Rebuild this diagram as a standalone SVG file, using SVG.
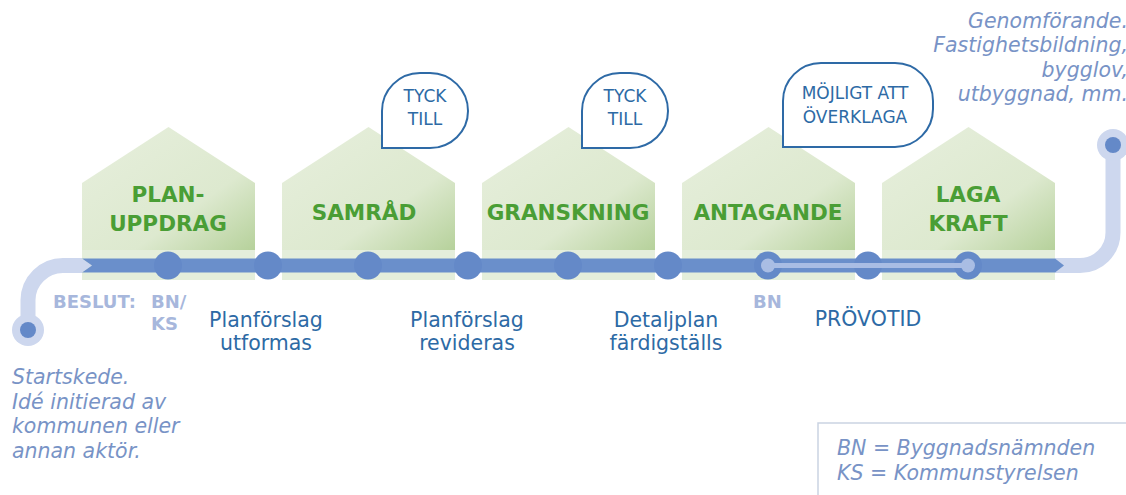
<svg xmlns="http://www.w3.org/2000/svg" width="1126" height="495" viewBox="0 0 1126 495">
<defs>
<linearGradient id="hg" x1="0" y1="0" x2="1" y2="1">
<stop offset="0" stop-color="#e7efdd"/>
<stop offset="0.65" stop-color="#dde9cf"/>
<stop offset="1" stop-color="#b6d19b"/>
</linearGradient>
<path id="house" d="M0,123 V56 L86.5,0 L173,56 V123 Z"/>
</defs>
<style>
.band{fill:#e4eedb}
.hl{font-family:"DejaVu Sans",Verdana,sans-serif;font-weight:bold;font-size:21.5px;fill:#4a9e35;text-anchor:middle}
.lbl{font-family:"DejaVu Sans",Verdana,sans-serif;font-size:20.5px;fill:#2d6aa5;text-anchor:middle}
.dec{font-family:"DejaVu Sans",Verdana,sans-serif;font-weight:bold;font-size:18px;fill:#a7b7dc}
.it{font-family:"DejaVu Sans",Verdana,sans-serif;font-style:italic;font-size:20.5px;fill:#7893c6}
.bub{fill:#ffffff;stroke:#2e6aa6;stroke-width:2}
.bt{font-family:"DejaVu Sans",Verdana,sans-serif;font-size:17px;fill:#2d6aa5;text-anchor:middle}
.pale{fill:none;stroke:#cdd7ee;stroke-width:15}
.dot{fill:#6489c8}
.idot{fill:#a9bde4}
</style>
<rect width="1126" height="495" fill="#ffffff"/>

<g id="house-planuppdrag">
<use href="#house" x="82" y="127" fill="url(#hg)"/>
<rect class="band" x="82" y="250" width="173" height="30"/>
<text class="hl" x="168" y="202">PLAN-</text>
<text class="hl" x="168" y="231">UPPDRAG</text>
</g>
<g id="house-samrad">
<use href="#house" x="282" y="127" fill="url(#hg)"/>
<rect class="band" x="282" y="250" width="173" height="30"/>
<text class="hl" x="364" y="220">SAMRÅD</text>
</g>
<g id="house-granskning">
<use href="#house" x="482" y="127" fill="url(#hg)"/>
<rect class="band" x="482" y="250" width="173" height="30"/>
<text class="hl" x="568" y="220">GRANSKNING</text>
</g>
<g id="house-antagande">
<use href="#house" x="682" y="127" fill="url(#hg)"/>
<rect class="band" x="682" y="250" width="173" height="30"/>
<text class="hl" x="768" y="220">ANTAGANDE</text>
</g>
<g id="house-lagakraft">
<use href="#house" x="882" y="127" fill="url(#hg)"/>
<rect class="band" x="882" y="250" width="173" height="30"/>
<text class="hl" x="968" y="202">LAGA</text>
<text class="hl" x="968" y="231">KRAFT</text>
</g>

<g id="bubble-tyck1">
<path class="bub" d="M382,148 V111 A38,38 0 0 1 420,73 H430 A38,38 0 0 1 468,111 A38,37 0 0 1 430,148 Z"/>
<text class="bt" x="425" y="102">TYCK</text>
<text class="bt" x="425" y="125">TILL</text>
</g>
<g id="bubble-tyck2">
<path class="bub" d="M582,148 V111 A38,38 0 0 1 620,73 H630 A38,38 0 0 1 668,111 A38,37 0 0 1 630,148 Z"/>
<text class="bt" x="625" y="102">TYCK</text>
<text class="bt" x="625" y="125">TILL</text>
</g>
<g id="bubble-overklaga">
<path class="bub" d="M783,147 V101 A38,38 0 0 1 821,63 H895 A38,38 0 0 1 933,101 V109 A38,38 0 0 1 895,147 Z"/>
<text class="bt" x="855" y="99">MÖJLIGT ATT</text>
<text class="bt" x="855" y="123">ÖVERKLAGA</text>
</g>

<g id="connectors">
<path class="pale" d="M28,330 V300 A35,35 0 0 1 63,265.5 H82"/>
<path d="M81,258 L92,265.5 L81,273 Z" fill="#cdd7ee"/>
<path class="pale" d="M1055,265.5 H1080 A33,33 0 0 0 1113,232.5 V145"/>
<path d="M82,258.5 H1055 L1064,265.5 L1055,272.5 H82 L92,265.5 Z" fill="#6a8fcb"/>
<circle cx="28" cy="330" r="16" fill="#cdd7ee"/>
<circle cx="28" cy="330" r="8" class="dot"/>
<circle cx="1113" cy="145" r="16" fill="#cdd7ee"/>
<circle cx="1113" cy="145" r="8" class="dot"/>
<circle class="dot" cx="168" cy="265.5" r="14"/>
<circle class="dot" cx="268" cy="265.5" r="14"/>
<circle class="dot" cx="368" cy="265.5" r="14"/>
<circle class="dot" cx="468" cy="265.5" r="14"/>
<circle class="dot" cx="568" cy="265.5" r="14"/>
<circle class="dot" cx="668" cy="265.5" r="14"/>
<circle class="dot" cx="768" cy="265.5" r="14"/>
<circle class="dot" cx="868" cy="265.5" r="14"/>
<circle class="dot" cx="968" cy="265.5" r="14"/>
<line x1="768" y1="265.5" x2="968" y2="265.5" stroke="#a9bde4" stroke-width="5"/>
<circle class="idot" cx="768" cy="265.5" r="7"/>
<circle class="idot" cx="968" cy="265.5" r="7"/>
</g>

<g id="labels">
<text class="dec" x="53" y="308">BESLUT:</text>
<text class="dec" x="151" y="308">BN/</text>
<text class="dec" x="151" y="330">KS</text>
<text class="dec" x="753" y="308">BN</text>
<text class="lbl" x="266" y="327">Planförslag</text>
<text class="lbl" x="266" y="350">utformas</text>
<text class="lbl" x="467" y="327">Planförslag</text>
<text class="lbl" x="467" y="350">revideras</text>
<text class="lbl" x="666" y="327">Detaljplan</text>
<text class="lbl" x="666" y="350">färdigställs</text>
<text class="lbl" x="868" y="326">PRÖVOTID</text>
</g>

<g id="start-note">
<text class="it" x="12" y="384">Startskede.</text>
<text class="it" x="12" y="408.5">Idé initierad av</text>
<text class="it" x="12" y="433">kommunen eller</text>
<text class="it" x="12" y="457.5">annan aktör.</text>
</g>

<g id="end-note" text-anchor="end">
<text class="it" x="1128" y="28">Genomförande.</text>
<text class="it" x="1128" y="52">Fastighetsbildning,</text>
<text class="it" x="1128" y="77">bygglov,</text>
<text class="it" x="1128" y="101">utbyggnad, mm.</text>
</g>

<g id="legend">
<rect x="818" y="423" width="330" height="100" fill="#ffffff" stroke="#cad3e2" stroke-width="1.5"/>
<text class="it" x="837" y="455">BN = Byggnadsnämnden</text>
<text class="it" x="837" y="480">KS = Kommunstyrelsen</text>
</g>
</svg>
